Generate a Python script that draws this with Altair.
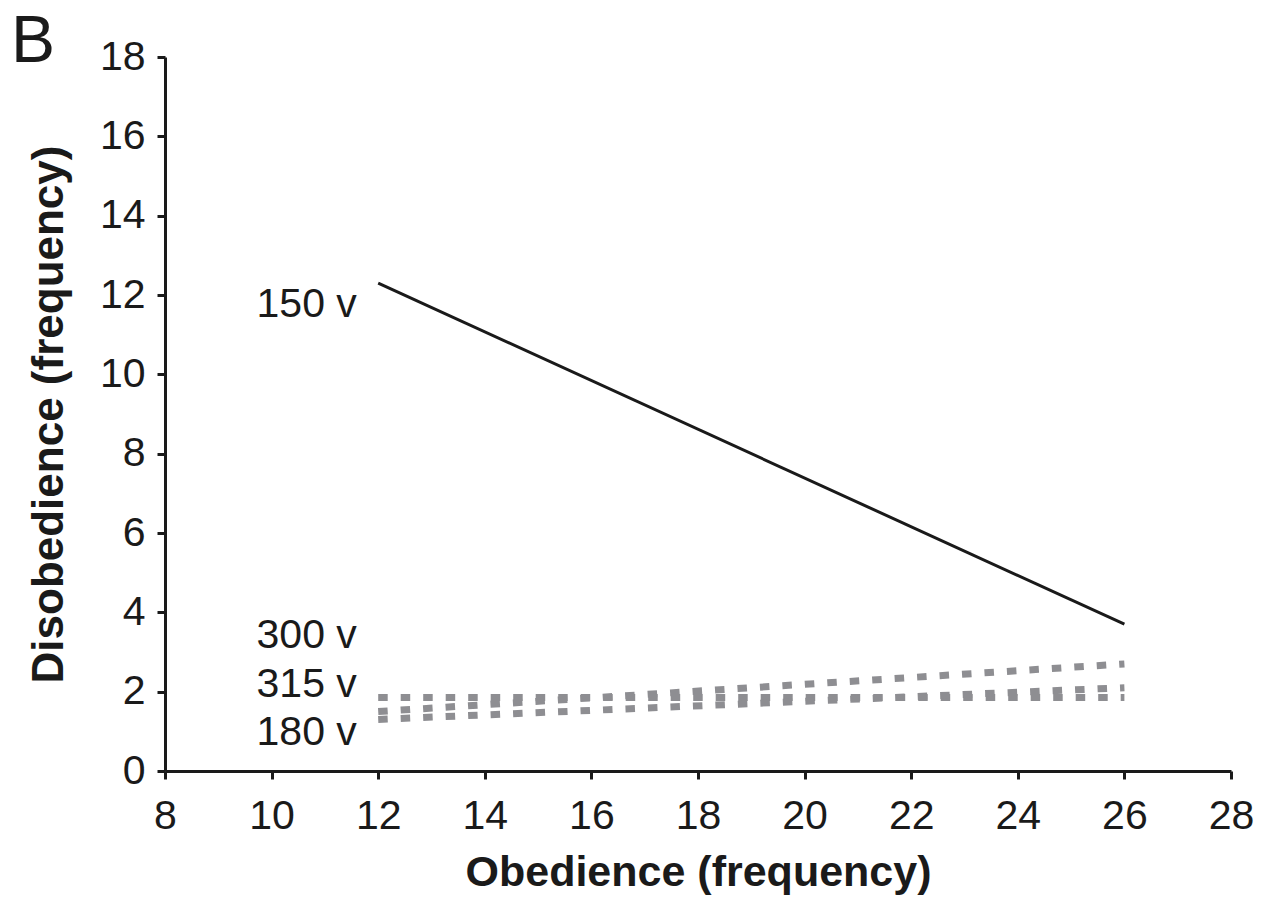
import altair as alt
import pandas as pd

# ---- data ----
obedience = [12, 26]
dis_150 = [12.3, 3.7]
dis_300 = [1.5, 2.7]
dis_315 = [1.85, 1.85]
dis_180 = [1.3, 2.1]

label_names = ["150 v", "300 v", "315 v", "180 v"]
label_x = [11.6, 11.6, 11.6, 11.6]
label_y = [11.75, 3.4, 2.17, 0.96]

x_ticks = [8, 10, 12, 14, 16, 18, 20, 22, 24, 26, 28]
y_ticks = [0, 2, 4, 6, 8, 10, 12, 14, 16, 18]

panel_letter = ["B"]

FONT = "Liberation Sans"

solid_df = pd.DataFrame({"x": obedience, "y": dis_150, "s": "150 v"})
dash_df = pd.concat([
    pd.DataFrame({"x": obedience, "y": dis_300, "s": "300 v"}),
    pd.DataFrame({"x": obedience, "y": dis_315, "s": "315 v"}),
    pd.DataFrame({"x": obedience, "y": dis_180, "s": "180 v"}),
])
lab_df = pd.DataFrame({"x": label_x, "y": label_y, "t": label_names})
letter_df = pd.DataFrame({"t": panel_letter})

xs = alt.Scale(domain=[8, 28], nice=False, zero=False)
ys = alt.Scale(domain=[0, 18], nice=False)

xax = alt.Axis(values=x_ticks, title="Obedience (frequency)", grid=False, labelFlush=False,
               labelFontSize=41, titleFontSize=43, labelPadding=17, titlePadding=15)
yax = alt.Axis(values=y_ticks, title="Disobedience (frequency)", grid=False, labelFlush=False,
               labelFontSize=41, titleFontSize=44, labelPadding=12, titlePadding=28)

solid = alt.Chart(solid_df).mark_line(color="#1a1a1a", strokeWidth=3).encode(
    x=alt.X("x:Q", scale=xs, axis=xax),
    y=alt.Y("y:Q", scale=ys, axis=yax),
)

dashed = alt.Chart(dash_df).mark_line(color="#8e8e92", strokeWidth=7,
                                      strokeDash=[9.5, 13], strokeCap="butt").encode(
    x=alt.X("x:Q", scale=xs),
    y=alt.Y("y:Q", scale=ys),
    detail="s:N",
)

labels = alt.Chart(lab_df).mark_text(align="right", baseline="middle",
                                     fontSize=41, font=FONT, color="#1a1a1a").encode(
    x=alt.X("x:Q", scale=xs),
    y=alt.Y("y:Q", scale=ys),
    text="t:N",
)

letter = alt.Chart(letter_df).mark_text(align="left", baseline="alphabetic",
                                        fontSize=66, font=FONT, color="#1a1a1a").encode(
    x=alt.value(-154), y=alt.value(5), text="t:N",
)

chart = alt.layer(dashed, solid, labels, letter).properties(
    width=1066, height=714,
    autosize=alt.AutoSizeParams(type="none"),
    padding={"left": 157, "top": 49, "right": 24, "bottom": 124},
).configure_view(stroke=None).configure_axis(
    labelFont=FONT, titleFont=FONT, labelColor="#1a1a1a", titleColor="#1a1a1a",
    domainColor="#1a1a1a", tickColor="#1a1a1a", domainWidth=3, tickWidth=3,
    tickSize=8, titleFontWeight="bold",
)

chart.save("out.html", embed_options={"renderer": "svg", "actions": False})
